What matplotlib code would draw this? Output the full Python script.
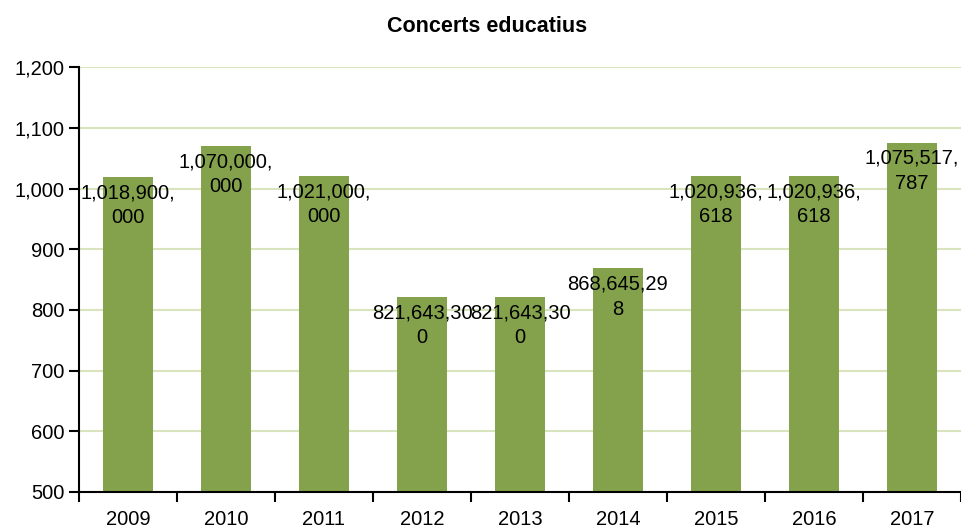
import matplotlib
matplotlib.use("Agg")
import matplotlib.pyplot as plt
import numpy as np

# dades
anys = ['2009', '2010', '2011', '2012', '2013', '2014', '2015', '2016', '2017']
valors = [1018900000, 1070000000, 1021000000, 821643300, 821643300,
          868645298, 1020936618, 1020936618, 1075517787]
yticks = [500, 600, 700, 800, 900, 1000, 1100, 1200]

plt.rcParams['font.family'] = ['Liberation Sans', 'DejaVu Sans']
mida = 14.5

fig = plt.figure(figsize=(9.62, 5.29), dpi=100)
ax = fig.add_axes([0.082, 0.070, 0.917, 0.803])

x = np.arange(len(anys))
milions = np.array(valors) / 1e6
color_barra = '#84A24C'

ax.bar(x, milions - 500, bottom=500, width=0.51, color=color_barra, zorder=2)

# etiquetes de dades, tallades a 10 caracters com a l'original
for xi, v, m in zip(x, valors, milions):
    s = f'{v:,}'
    txt = s[:10] + '\n' + s[10:]
    ax.annotate(txt, xy=(xi, m), xytext=(0, -4.5), textcoords='offset points',
                ha='center', va='top', fontsize=mida, linespacing=1.4,
                color='black', zorder=3)

ax.set_xlim(-0.5, len(anys) - 0.5)
ax.set_ylim(500, 1200)
ax.set_yticks(yticks)
ax.set_yticklabels([f'{t:,}' for t in yticks], fontsize=mida)
ax.yaxis.grid(True, color='#D7E4BD', linewidth=1.5, zorder=0)
ax.set_axisbelow(True)

ax.set_xticks(x)
ax.set_xticklabels(anys, fontsize=mida)
ax.set_xticks(np.arange(-0.5, len(anys), 1), minor=True)
ax.tick_params(axis='x', which='major', length=0, pad=13)
ax.tick_params(axis='x', which='minor', length=7.5, width=1.5, direction='out')
ax.tick_params(axis='y', length=7.5, width=1.5, direction='out', pad=3)

for lado in ['top', 'right']:
    ax.spines[lado].set_visible(False)
for lado in ['left', 'bottom']:
    ax.spines[lado].set_linewidth(1.5)
    ax.spines[lado].set_color('black')

fig.text(0.506, 0.95, 'Concerts educatius', ha='center', va='center',
         fontsize=15.5, fontweight='bold')

fig.savefig('out.png', dpi=100)
